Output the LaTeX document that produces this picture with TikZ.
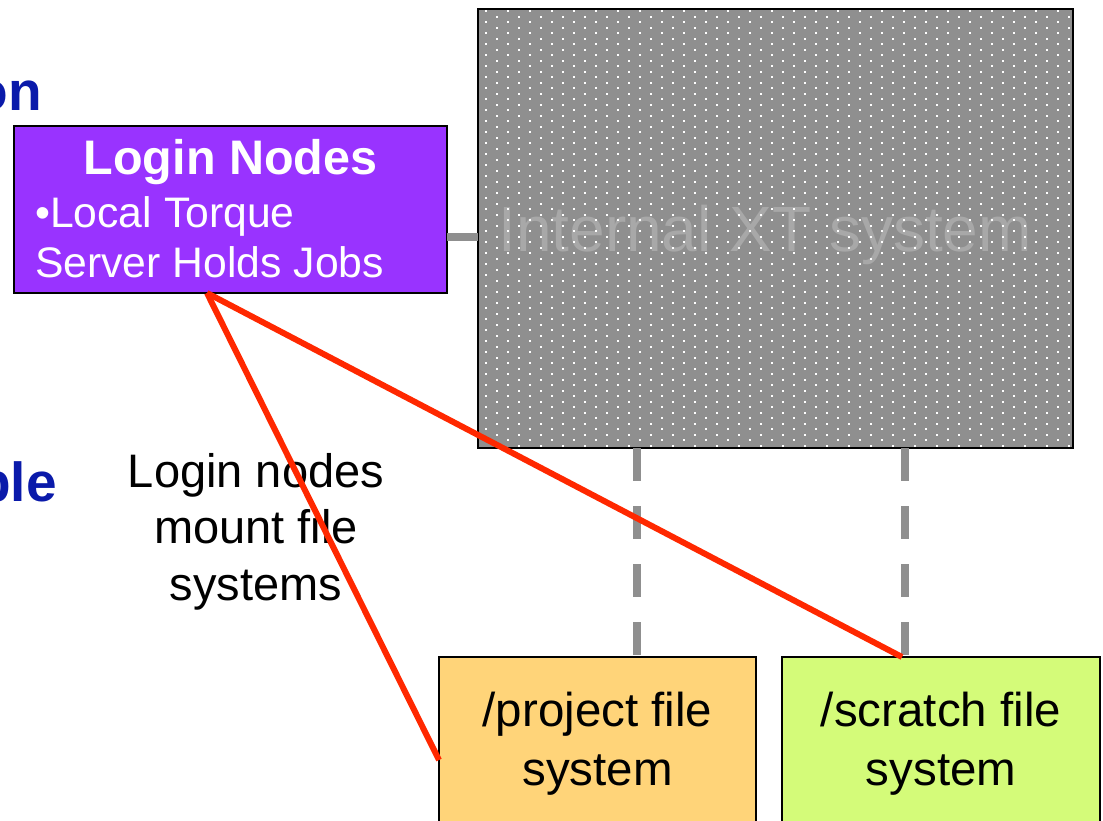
\documentclass[tikz,border=0pt]{standalone}
\usepackage{fontspec}
\setmainfont{Liberation Sans}
\definecolor{loginpurple}{RGB}{153,51,255}
\definecolor{xtgray}{RGB}{143,143,143}
\definecolor{xtlabelgray}{RGB}{168,168,168}
\definecolor{projorange}{RGB}{255,212,121}
\definecolor{scratchgreen}{RGB}{212,251,121}
\definecolor{mountred}{RGB}{255,40,0}
\definecolor{headblue}{RGB}{10,26,170}
\newcommand{\fsz}[2]{\fontsize{#1}{#2}\selectfont}
\tikzset{
  frame/.style={draw=black, line width=2pt, inner sep=0pt, outer sep=0pt},
  headtext/.style={text=headblue, font=\fsz{55}{60}\bfseries, inner sep=0pt, anchor=base east},
  logintext/.style={text=white, font=\fsz{42.7}{50}, inner sep=0pt, anchor=base west},
  fslabel/.style={font=\fsz{47.5}{59}, align=center, inner sep=0pt, anchor=north},
  notetext/.style={font=\fsz{47}{56.5}, align=center, inner sep=0pt, anchor=north},
  graylink/.style={draw=xtgray, line width=8pt},
  graydash/.style={draw=xtgray, line width=8pt, dash pattern=on 33pt off 25pt},
  mountline/.style={draw=mountred, line width=6pt},
}

\begin{document}
\begin{tikzpicture}[x=1pt,y=-1pt]
\useasboundingbox (0,0) rectangle (1103,820);
\clip (0,0) rectangle (1103,820);

% headings cut at the left edge
\node[headtext] (headtop) at (42,110) {on};
\node[headtext] (headmid) at (57,501) {ble};

% login nodes
\node[frame, fill=loginpurple, minimum width=433, minimum height=167] (login) at (230.5,209.5) {};
\node[text=white, font=\fsz{48.5}{56}\bfseries, inner sep=0pt, anchor=base] (logintitle) at (230.5,174) {Login Nodes};
\node[logintext] (loginline1) at (35,227) {•Local Torque};
\node[logintext] (loginline2) at (35,277) {Server Holds Jobs};

% internal system, dotted fill over the label
\node[frame, line width=2.5pt, fill=xtgray, minimum width=595, minimum height=439] (xtsys) at (775.5,228.5) {};
\node[text=xtlabelgray, font=\fsz{64}{70}, inner sep=0pt, anchor=base] (xtlabel) at (765,251) {Internal XT system};
\begin{scope}
\clip (480,10.5) rectangle (1071.5,446.5);
\foreach \r in {0,...,79}{
  \pgfmathsetmacro{\dx}{485+11*mod(\r,2)}
  \foreach \c in {0,...,27}
    \fill[white] (\dx+22*\c, 10+5.5*\r) rectangle ++(2.3,2.3);
}
\end{scope}

% file systems
\node[frame, line width=1.5pt, fill=projorange, minimum width=317, minimum height=180] (project) at (597.5,747) {};
\node[fslabel] (projectlabel) at (597.5,692) {/project file\\system};
\node[frame, line width=1.5pt, fill=scratchgreen, minimum width=318, minimum height=180] (scratch) at (941,747) {};
\node[fslabel] (scratchlabel) at (941,692) {/scratch file\\system};

\node[notetext] (mountnote) at (256,453) {Login nodes\\mount file\\systems};

% links
\coordinate (linkrow) at (0,237);
\coordinate (projtap) at (637,0);
\coordinate (scratchtap) at (905,0);
\draw[graylink] (login.east |- linkrow) -- (xtsys.west |- linkrow);
\draw[graydash] (xtsys.south -| projtap) -- (project.north -| projtap);
\draw[graydash] (xtsys.south -| scratchtap) -- (scratch.north -| scratchtap);

\draw[mountline] ([xshift=-23.5pt]login.south) -- ([yshift=-13pt]project.west);
\draw[mountline] ([xshift=-23.5pt]login.south) -- ([xshift=-39pt]scratch.north);
\end{tikzpicture}
\end{document}
